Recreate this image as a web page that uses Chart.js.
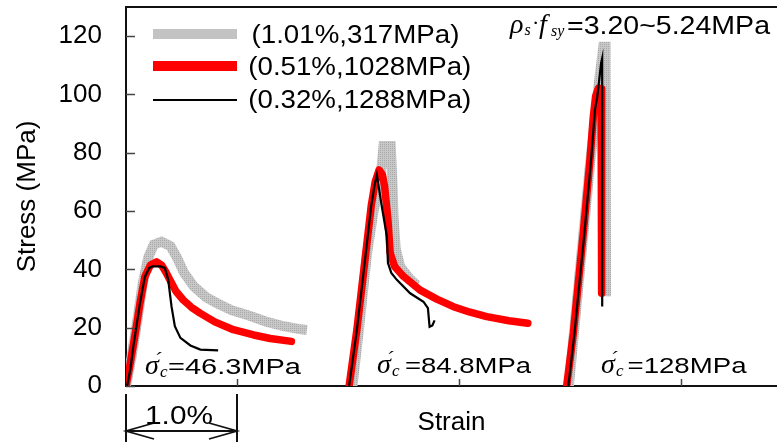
<!DOCTYPE html>
<html>
<head>
<meta charset="utf-8">
<script src="https://cdn.jsdelivr.net/npm/chart.js@4.4.1/dist/chart.umd.min.js"></script>
<style>
  html, body { margin: 0; padding: 0; background: #fff; }
  canvas { display: block; }
</style>
</head>
<body>
<canvas id="c" width="777" height="442"></canvas>
<script>
// ---------------- DATA ----------------
// strain in %, stress in MPa
const gray1Strain  = [0.00, 0.05, 0.10, 0.15, 0.20, 0.25, 0.32, 0.40, 0.46, 0.52, 0.61, 0.72, 0.82, 0.95, 1.12, 1.27, 1.42, 1.55, 1.63];
const gray1Stress  = [0, 10, 22, 35, 44, 48.5, 49.5, 48, 44, 39, 34.2, 30.5, 28.4, 26, 24, 22, 20.5, 19.6, 19.2];
const red1Strain   = [0.00, 0.03, 0.066, 0.10, 0.126, 0.17, 0.22, 0.276, 0.32, 0.36, 0.396, 0.45, 0.516, 0.59, 0.667, 0.80, 0.967, 1.15, 1.30, 1.49];
const red1Stress   = [0, 6, 14, 22, 28.4, 37.5, 41.5, 42.6, 41.5, 39, 36.4, 32.5, 29.5, 27, 25, 22, 19.3, 17.5, 16.3, 15.3];
const black1Strain = [0.01, 0.04, 0.066, 0.10, 0.126, 0.17, 0.21, 0.24, 0.31, 0.35, 0.38, 0.41, 0.44, 0.49, 0.58, 0.67, 0.83];
const black1Stress = [0, 6, 13.5, 22, 28.4, 37.5, 40.5, 41, 41, 40.5, 36.5, 27.3, 20.5, 16.5, 13.9, 12.5, 12.2];

const gray2Strain  = [2.04, 2.10, 2.17, 2.23, 2.29, 2.32, 2.385, 2.40, 2.41, 2.43, 2.47, 2.55, 2.62];
const gray2Stress  = [0, 20, 45, 60, 70, 82.3, 82.3, 70, 58, 47, 41, 37, 34.5];
const red2Strain   = [2.01, 2.08, 2.16, 2.21, 2.245, 2.28, 2.31, 2.33, 2.36, 2.38, 2.42, 2.50, 2.65, 2.80, 2.95, 3.10, 3.25, 3.45, 3.62];
const red2Stress   = [0, 19.3, 45.5, 62, 70, 74.1, 72.5, 68.4, 57, 45.6, 41, 37.6, 32.9, 29.8, 27.2, 25.3, 23.8, 22.4, 21.5];
const black2Strain = [2.01, 2.08, 2.16, 2.21, 2.24, 2.26, 2.30, 2.35, 2.36, 2.39, 2.44, 2.56, 2.68, 2.72, 2.735, 2.76, 2.78];
const black2Stress = [0, 19.3, 45.5, 62, 69, 72.4, 62.7, 51.3, 42.2, 38.8, 36.4, 31.8, 28.9, 26.7, 20.3, 20.8, 22.5];

const gray3Strain  = [3.99, 4.08, 4.18, 4.26, 4.30, 4.32, 4.325];
const gray3Stress  = [0, 36, 76, 104, 116.4, 116.4, 30.8];
const red3Strain   = [3.97, 4.03, 4.06, 4.12, 4.18, 4.21, 4.23, 4.255, 4.28, 4.285];
const red3Stress   = [0, 18.1, 29.6, 52.5, 77.6, 92.4, 99.2, 102.1, 102, 31.8];
const black3Strain = [3.985, 4.04, 4.07, 4.13, 4.19, 4.225, 4.245, 4.26, 4.28, 4.29, 4.29];
const black3Stress = [0, 18, 29.6, 52.5, 77.6, 94.7, 99, 103.9, 110.7, 112.4, 27.3];

const legendLabels = ['(1.01%,317MPa)', '(0.51%,1028MPa)', '(0.32%,1288MPa)'];
const yTickValues  = [0, 20, 40, 60, 80, 100, 120];
const xTickValues  = [1, 3, 5];
const sigmaLabels  = ['=46.3MPa', '=84.8MPa', '=128MPa'];
const rhoLabel     = '=3.20~5.24MPa';
const scaleLabel   = '1.0%';

// ---------------- STYLE ----------------
const SANS  = '"Liberation Sans", Arial, Helvetica, sans-serif';
const SERIF = '"Liberation Serif", "Times New Roman", serif';
const GRAY = '#c3c3c3', RED = '#ff0000', BLACK = '#000000';

function grayPattern() {
  const c = document.createElement('canvas');
  c.width = 2; c.height = 2;
  const g = c.getContext('2d');
  g.fillStyle = '#c8c8c8'; g.fillRect(0, 0, 2, 2);
  g.fillStyle = '#a9a9a9'; g.fillRect(0, 0, 1, 1);
  return g.createPattern(c, 'repeat');
}
const grayPat = grayPattern();

function pts(xs, ys) { return xs.map((x, i) => ({ x: x, y: ys[i] })); }
function ds(xs, ys, kind) {
  const base = { data: pts(xs, ys), showLine: true, pointRadius: 0, tension: 0, fill: false };
  if (kind === 'gray')  return Object.assign(base, { borderColor: grayPat, borderWidth: 10, order: 2, borderJoinStyle: 'miter', borderCapStyle: 'butt' });
  if (kind === 'red')   return Object.assign(base, { borderColor: RED, borderWidth: 7.5, order: 1, borderJoinStyle: 'round', borderCapStyle: 'round' });
  return Object.assign(base, { borderColor: BLACK, borderWidth: 2.2, order: 0, borderJoinStyle: 'miter', borderCapStyle: 'butt' });
}

const datasets = [
  ds(gray1Strain, gray1Stress, 'gray'), ds(gray2Strain, gray2Stress, 'gray'), ds(gray3Strain, gray3Stress, 'gray'),
  ds(red1Strain, red1Stress, 'red'),    ds(red2Strain, red2Stress, 'red'),    ds(red3Strain, red3Stress, 'red'),
  ds(black1Strain, black1Stress, 'black'), ds(black2Strain, black2Stress, 'black'), ds(black3Strain, black3Stress, 'black')
];

// text helper: draws text starting at x (baseline y), horizontally fitted to a width if given
function txt(ctx, text, x, y, font, width) {
  ctx.save();
  ctx.font = font;
  ctx.textAlign = 'left';
  ctx.textBaseline = 'alphabetic';
  ctx.fillStyle = '#000';
  const w = ctx.measureText(text).width;
  const sx = width ? width / w : 1;
  ctx.translate(x, y);
  ctx.scale(sx, 1);
  ctx.fillText(text, 0, 0);
  ctx.restore();
}

function sigma(ctx, x, y, rest, restX, restW) {
  txt(ctx, '\u03C3', x, y, 'italic 28px ' + SERIF);
  txt(ctx, '\u00B4', x + 9, y - 7, 'italic 22px ' + SERIF);
  txt(ctx, 'c', x + 15, y + 3, 'italic 17px ' + SERIF);
  txt(ctx, rest, restX, y, '22px ' + SANS, restW);
}

const overlay = {
  id: 'overlay',
  afterDraw(chart) {
    const ctx = chart.ctx;
    const a = chart.chartArea;
    const xs = chart.scales.x, ys = chart.scales.y;
    ctx.save();
    // top frame line
    ctx.strokeStyle = '#111'; ctx.lineWidth = 2;
    ctx.beginPath(); ctx.moveTo(a.left - 1, a.top); ctx.lineTo(chart.width, a.top); ctx.stroke();
    // inward ticks
    ctx.strokeStyle = '#444'; ctx.lineWidth = 1.5;
    yTickValues.forEach(v => {
      const py = Math.round(ys.getPixelForValue(v)) + 0.5;
      ctx.beginPath(); ctx.moveTo(a.left, py); ctx.lineTo(a.left + 9, py); ctx.stroke();
    });
    xTickValues.forEach(v => {
      const px = Math.round(xs.getPixelForValue(v)) + 0.5;
      ctx.beginPath(); ctx.moveTo(px, a.bottom); ctx.lineTo(px, a.bottom - 7); ctx.stroke();
    });
    // 1.0% dimension marker below axis
    const x0 = xs.getPixelForValue(0), x1 = xs.getPixelForValue(1);
    ctx.strokeStyle = '#111'; ctx.lineWidth = 2;
    ctx.beginPath();
    ctx.moveTo(x0, a.bottom + 8); ctx.lineTo(x0, chart.height);
    ctx.moveTo(x1, a.bottom + 8); ctx.lineTo(x1, chart.height);
    ctx.stroke();
    const ay = 431;
    ctx.lineWidth = 1.8;
    ctx.beginPath();
    ctx.moveTo(x0, ay); ctx.lineTo(x1, ay);
    ctx.moveTo(x0 + 28, ay - 8); ctx.lineTo(x0, ay); ctx.lineTo(x0 + 28, ay + 8);
    ctx.moveTo(x1 - 28, ay - 8); ctx.lineTo(x1, ay); ctx.lineTo(x1 - 28, ay + 8);
    ctx.stroke();
    txt(ctx, scaleLabel, 145, 424, '25px ' + SANS, 68);

    // legend
    const lx0 = 153, lx1 = 237;
    const rows = [
      { y: 34,  color: GRAY,  w: 10, tx: 251.5, ty: 43.3, tw: 208 },
      { y: 66,  color: RED,   w: 10, tx: 248.3, ty: 74.5, tw: 223 },
      { y: 100, color: BLACK, w: 2.2, tx: 248.3, ty: 107.5, tw: 223 }
    ];
    rows.forEach((r, i) => {
      ctx.strokeStyle = r.color; ctx.lineWidth = r.w; ctx.lineCap = 'butt';
      ctx.beginPath(); ctx.moveTo(lx0, r.y); ctx.lineTo(lx1, r.y); ctx.stroke();
      txt(ctx, legendLabels[i], r.tx, r.ty, '25px ' + SANS, r.tw);
    });

    // rho_s . f_sy annotation
    txt(ctx, '\u03C1', 510, 33, 'italic 28px ' + SERIF);
    txt(ctx, 's', 524.5, 35, 'italic 16px ' + SERIF);
    txt(ctx, '\u00B7', 532, 30, '22px ' + SERIF);
    txt(ctx, 'f', 539, 33, 'italic 28px ' + SERIF);
    txt(ctx, 'sy', 551, 36, 'italic 16px ' + SERIF);
    txt(ctx, rhoLabel, 567, 33.5, '25px ' + SANS, 203);

    // sigma'c labels
    sigma(ctx, 145, 374, sigmaLabels[0], 168, 133);
    sigma(ctx, 377, 373, sigmaLabels[1], 405, 126);
    sigma(ctx, 601, 373, sigmaLabels[2], 627.5, 119);
    ctx.restore();
  }
};

new Chart(document.getElementById('c'), {
  type: 'scatter',
  data: { datasets: datasets },
  plugins: [overlay],
  options: {
    responsive: false,
    animation: false,
    devicePixelRatio: 1,
    layout: { padding: { top: 7, right: 0, bottom: 0, left: 0 } },
    plugins: { legend: { display: false }, tooltip: { enabled: false } },
    scales: {
      x: {
        type: 'linear', min: 0, max: 651 / 111,
        ticks: { display: false },
        grid: { display: false, drawTicks: false },
        border: { display: true, color: '#111', width: 2 },
        title: { display: true, text: 'Strain', color: '#000', font: { family: SANS, size: 26 }, padding: { top: 0, bottom: 4 } },
        afterFit(s) { s.height = 56; s.paddingLeft = 0; s.paddingRight = 0; }
      },
      y: {
        type: 'linear', min: 0, max: 130,
        afterBuildTicks(s) { s.ticks = yTickValues.map(v => ({ value: v })); },
        ticks: { color: '#000', font: { family: SANS, size: 26 }, padding: 24 },
        grid: { display: false, drawTicks: false },
        border: { display: true, color: '#111', width: 2 },
        title: { display: true, text: 'Stress (MPa)', color: '#000', font: { family: SANS, size: 26 }, padding: { top: 12, bottom: 0 } },
        afterFit(s) { s.width = 126; s.paddingTop = 0; s.paddingBottom = 0; }
      }
    }
  }
});
</script>
</body>
</html>
